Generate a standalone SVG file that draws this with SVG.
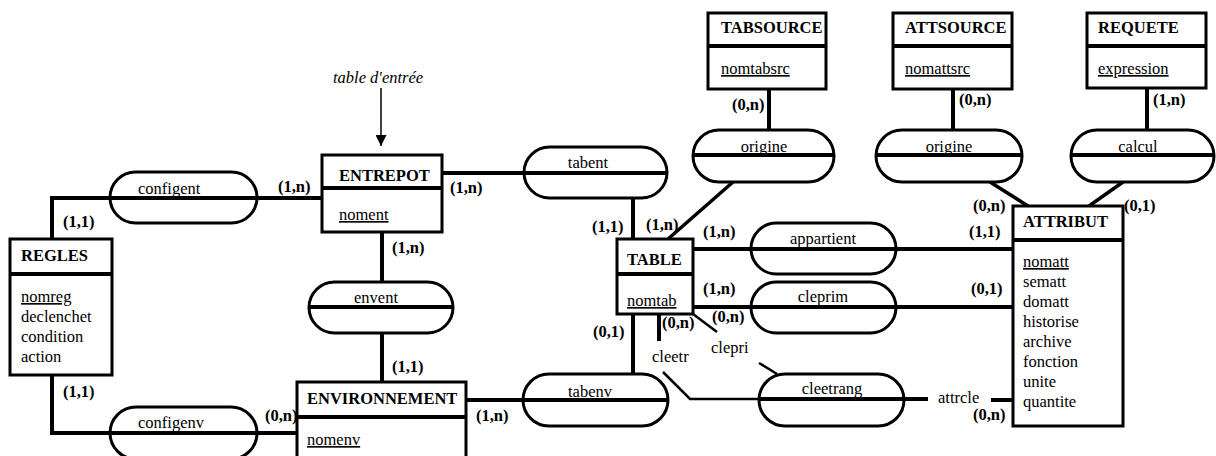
<svg xmlns="http://www.w3.org/2000/svg" width="1216" height="456" viewBox="0 0 1216 456" font-family="'Liberation Serif', 'Times New Roman', Times, 'DejaVu Serif', serif">
<defs>
<style>
text{font-family:'Liberation Serif','Times New Roman',Times,'DejaVu Serif',serif;font-size:16.5px;fill:#000}
.t{font-weight:bold}
.c{font-weight:bold}
.k{text-decoration:underline}
.m{text-anchor:middle}
.it{font-style:italic}
.box{fill:#fff;stroke:#000;stroke-width:3}
.div{stroke:#000;stroke-width:4}
.rel{fill:#fff;stroke:#000;stroke-width:3}
.ln{fill:none;stroke:#000;stroke-width:4}
.thin{fill:none;stroke:#000;stroke-width:2.5}
</style>
<marker id="ah" viewBox="0 0 10 10" refX="10" refY="5" markerWidth="11" markerHeight="11" markerUnits="userSpaceOnUse" orient="auto">
<path d="M0,0 L10,5 L0,10 Z" fill="#000"/>
</marker>
</defs>

<g id="connectors">
<polyline class="ln" points="52,239 52,198 322,198"/>
<polyline class="ln" points="52,375 52,433 297,433"/>
<line class="ln" x1="382" y1="232" x2="382" y2="282"/>
<line class="ln" x1="382" y1="333" x2="382" y2="382"/>
<line class="ln" x1="442" y1="173" x2="524" y2="173"/>
<line class="ln" x1="633" y1="198" x2="633" y2="239"/>
<line class="ln" x1="466" y1="400" x2="523" y2="400"/>
<line class="ln" x1="633" y1="314" x2="633" y2="374"/>
<line class="thin" x1="668" y1="239" x2="733" y2="182" style="stroke-width:3.5"/>
<line class="ln" x1="769" y1="89" x2="769" y2="130"/>
<line class="ln" x1="953" y1="89" x2="953" y2="130"/>
<line class="thin" x1="990" y1="182" x2="1028" y2="206" style="stroke-width:3.5"/>
<line class="ln" x1="1147" y1="88" x2="1147" y2="130"/>
<line class="thin" x1="1123" y1="182" x2="1089" y2="206" style="stroke-width:3.5"/>
<line class="ln" x1="693" y1="249" x2="751" y2="249"/>
<line class="ln" x1="896" y1="249" x2="1013" y2="249"/>
<line class="ln" x1="693" y1="307" x2="751" y2="307"/>
<line class="ln" x1="896" y1="307" x2="1013" y2="307"/>
<line class="ln" x1="659" y1="314" x2="659" y2="341"/>
<polyline class="thin" points="663,372 690,399 759,399"/>
<line class="ln" x1="904" y1="399" x2="928" y2="399"/>
<line class="ln" x1="991" y1="400" x2="1013" y2="400"/>
<line class="thin" x1="693" y1="314" x2="717" y2="332"/>
<line class="thin" x1="759" y1="363" x2="777" y2="374"/>
<line x1="381" y1="88" x2="381" y2="146" stroke="#000" stroke-width="1.5" marker-end="url(#ah)"/>
</g>

<g id="configent">
<rect class="rel" x="110" y="172" width="147" height="51" rx="25.5"/>
<line class="div" x1="110" y1="198" x2="257" y2="198"/>
<text x="138" y="194">configent</text>
</g>
<g id="configenv">
<rect class="rel" x="110" y="407" width="147" height="52" rx="26"/>
<line class="div" x1="110" y1="433" x2="257" y2="433"/>
<text x="138" y="428">configenv</text>
</g>
<g id="envent">
<rect class="rel" x="309" y="282" width="144" height="51" rx="25.5"/>
<line class="div" x1="309" y1="307" x2="453" y2="307"/>
<text class="m" x="376" y="303">envent</text>
</g>
<g id="tabent">
<rect class="rel" x="524" y="147" width="143" height="51" rx="25.5"/>
<line class="div" x1="524" y1="173" x2="667" y2="173"/>
<text class="m" x="588" y="168">tabent</text>
</g>
<g id="tabenv">
<rect class="rel" x="523" y="374" width="145" height="52" rx="26"/>
<line class="div" x1="523" y1="400" x2="668" y2="400"/>
<text class="m" x="590" y="397">tabenv</text>
</g>
<g id="origine1">
<rect class="rel" x="693" y="130" width="141" height="52" rx="26"/>
<line class="div" x1="693" y1="155" x2="834" y2="155"/>
<text class="m" x="764" y="152">origine</text>
</g>
<g id="origine2">
<rect class="rel" x="876" y="130" width="146" height="52" rx="26"/>
<line class="div" x1="876" y1="155" x2="1022" y2="155"/>
<text class="m" x="949" y="152">origine</text>
</g>
<g id="calcul">
<rect class="rel" x="1071" y="130" width="143" height="52" rx="26"/>
<line class="div" x1="1071" y1="155" x2="1214" y2="155"/>
<text class="m" x="1138" y="152">calcul</text>
</g>
<g id="appartient">
<rect class="rel" x="751" y="223" width="145" height="51" rx="25.5"/>
<line class="div" x1="751" y1="249" x2="896" y2="249"/>
<text class="m" x="823" y="244">appartient</text>
</g>
<g id="cleprim">
<rect class="rel" x="751" y="282" width="145" height="51" rx="25.5"/>
<line class="div" x1="751" y1="307" x2="896" y2="307"/>
<text class="m" x="823" y="302">cleprim</text>
</g>
<g id="cleetrang">
<rect class="rel" x="759" y="374" width="145" height="52" rx="26"/>
<line class="div" x1="759" y1="399" x2="904" y2="399"/>
<text class="m" x="832" y="394">cleetrang</text>
</g>

<g id="REGLES">
<rect class="box" x="10" y="239" width="102" height="136"/>
<line class="div" x1="10" y1="274" x2="112" y2="274"/>
<text class="t" x="21" y="261">REGLES</text>
<text class="k" x="21" y="302">nomreg</text>
<text x="21" y="322">declenchet</text>
<text x="21" y="342">condition</text>
<text x="21" y="362">action</text>
</g>
<g id="ENTREPOT">
<rect class="box" x="322" y="155" width="120" height="77"/>
<line class="div" x1="322" y1="188" x2="442" y2="188"/>
<text class="t" x="339" y="181">ENTREPOT</text>
<text class="k" x="339" y="220">noment</text>
</g>
<g id="ENVIRONNEMENT">
<rect class="box" x="297" y="382" width="169" height="90"/>
<line class="div" x1="297" y1="417" x2="466" y2="417"/>
<text class="t" x="307" y="404">ENVIRONNEMENT</text>
<text class="k" x="307" y="445">nomenv</text>
</g>
<g id="TABLE">
<rect class="box" x="617" y="239" width="76" height="75"/>
<line class="div" x1="617" y1="274" x2="693" y2="274"/>
<text class="t" x="627" y="265">TABLE</text>
<text class="k" x="627" y="306">nomtab</text>
</g>
<g id="TABSOURCE">
<rect class="box" x="708" y="13" width="118" height="76"/>
<line class="div" x1="708" y1="46" x2="826" y2="46"/>
<text class="t" x="721" y="33">TABSOURCE</text>
<text class="k" x="721" y="74">nomtabsrc</text>
</g>
<g id="ATTSOURCE">
<rect class="box" x="893" y="13" width="119" height="76"/>
<line class="div" x1="893" y1="46" x2="1012" y2="46"/>
<text class="t" x="905" y="33">ATTSOURCE</text>
<text class="k" x="905" y="74">nomattsrc</text>
</g>
<g id="REQUETE">
<rect class="box" x="1087" y="13" width="119" height="75"/>
<line class="div" x1="1087" y1="46" x2="1206" y2="46"/>
<text class="t" x="1098" y="33">REQUETE</text>
<text class="k" x="1098" y="74">expression</text>
</g>
<g id="ATTRIBUT">
<rect class="box" x="1013" y="206" width="110" height="220"/>
<line class="div" x1="1013" y1="240" x2="1123" y2="240"/>
<text class="t" x="1023" y="227">ATTRIBUT</text>
<text class="k" x="1023" y="267">nomatt</text>
<text x="1023" y="287">sematt</text>
<text x="1023" y="307">domatt</text>
<text x="1023" y="327">historise</text>
<text x="1023" y="347">archive</text>
<text x="1023" y="367">fonction</text>
<text x="1023" y="387">unite</text>
<text x="1023" y="407">quantite</text>
</g>

<g id="labels">
<text class="it" x="333" y="83">table d'entrée</text>
<text x="652" y="362">cleetr</text>
<text x="711" y="353">clepri</text>
<text x="938" y="403">attrcle</text>
<text class="c" x="63" y="227">(1,1)</text>
<text class="c" x="278" y="192">(1,n)</text>
<text class="c" x="63" y="397">(1,1)</text>
<text class="c" x="265" y="421">(0,n)</text>
<text class="c" x="450" y="193">(1,n)</text>
<text class="c" x="392" y="253">(1,n)</text>
<text class="c" x="392" y="372">(1,1)</text>
<text class="c" x="476" y="421">(1,n)</text>
<text class="c" x="592" y="232">(1,1)</text>
<text class="c" x="646" y="230">(1,n)</text>
<text class="c" x="703" y="237">(1,n)</text>
<text class="c" x="969" y="237">(1,1)</text>
<text class="c" x="703" y="294">(1,n)</text>
<text class="c" x="971" y="294">(0,1)</text>
<text class="c" x="712" y="322">(0,n)</text>
<text class="c" x="662" y="328">(0,n)</text>
<text class="c" x="593" y="337">(0,1)</text>
<text class="c" x="973" y="211">(0,n)</text>
<text class="c" x="1124" y="211">(0,1)</text>
<text class="c" x="973" y="420">(0,n)</text>
<text class="c" x="732" y="110">(0,n)</text>
<text class="c" x="959" y="105">(0,n)</text>
<text class="c" x="1153" y="105">(1,n)</text>
</g>
</svg>
